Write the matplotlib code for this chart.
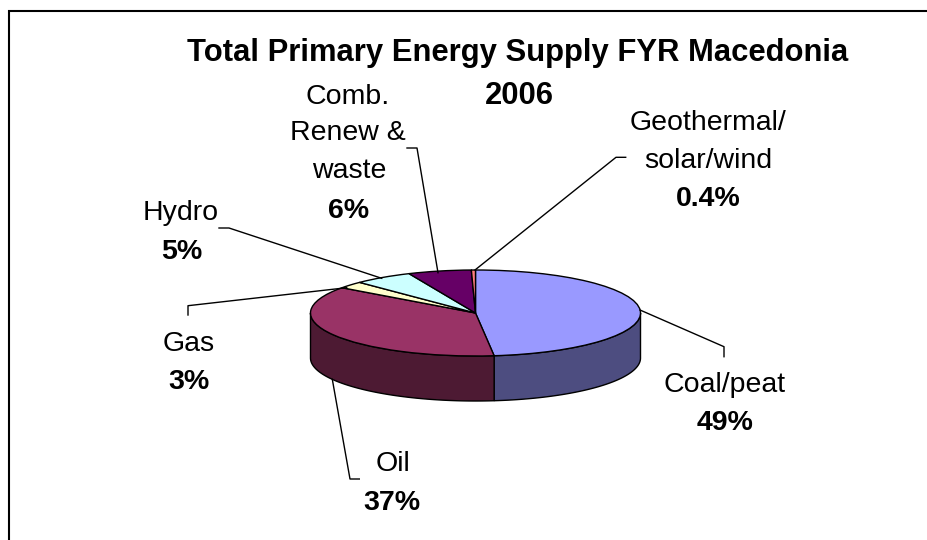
"""Total primary energy supply pie, drawn as a tilted 3D pie with leader lines."""
import numpy as np
import matplotlib
matplotlib.use("Agg")
import matplotlib.pyplot as plt

plt.rcParams["font.family"] = ["Liberation Sans", "DejaVu Sans"]

# slice shares (the printed labels are rounded)
categories = ["Coal/peat", "Oil", "Gas", "Hydro", "Comb. Renew & waste", "Geothermal/solar/wind"]
shares = [48.2, 36.8, 2.6, 5.8, 6.2, 0.4]
top_colors = ["#9999FF", "#993366", "#FFFFCC", "#CCFFFF", "#660066", "#FF8080"]
side_colors = ["#4D4D80", "#4D1A33", "#808066", "#668080", "#330033", "#804040"]

title_lines = ["Total Primary Energy Supply FYR Macedonia", "2006"]

# label lines: (text, bold, centre x, baseline y) in image pixels
label_lines = [
    ("Coal/peat", False, 725, 391.5),
    ("49%", True, 725.5, 430),
    ("Oil", False, 393, 471),
    ("37%", True, 392, 510),
    ("Gas", False, 188.5, 351),
    ("3%", True, 189, 389),
    ("Hydro", False, 181, 219.5),
    ("5%", True, 182, 259),
    ("Comb.", False, 347.5, 103.5),
    ("Renew &", False, 348, 140.5),
    ("waste", False, 349, 178.5),
    ("6%", True, 349, 217.5),
    ("Geothermal/", False, 708, 130.5),
    ("solar/wind", False, 708, 168.5),
    ("0.4%", True, 708, 205.5),
]

leaders = [
    [(640, 310), (724, 346.7), (724, 356.7)],
    [(332.3, 379.3), (350, 479), (359.3, 479)],
    [(346.7, 287.7), (188, 305.7), (188, 315)],
    [(381.7, 278.3), (229, 228), (219, 228)],
    [(438, 272.7), (417, 148), (407, 148)],
    [(475, 270), (616, 157.3), (625.7, 157.3)],
]

W, H = 928, 540
CX, CY = 475.5, 313
RX, RY = 165, 43
DEPTH = 45

fig = plt.figure(figsize=(W / 100, H / 100), dpi=100)

ax = fig.add_axes([0, 0, 1, 1])
ax.pie(shares, colors=top_colors, startangle=90, counterclock=False, radius=1,
       wedgeprops={"edgecolor": "black", "linewidth": 1.0, "zorder": 3})
ax.set_aspect("auto")
ax.set_xlim(-CX / RX, (W - CX) / RX)
ax.set_ylim(-(H - CY) / RY, CY / RY)
ax.axis("off")

# side wall: only the front half of the rim shows
depth = DEPTH / RY
stop = 90.0
for share, col in zip(shares, side_colors):
    start = stop - share * 3.6
    a0, a1 = start, stop
    stop = start
    # visible part sits in math angles -180..0
    lo, hi = max(a0, -180.0), min(a1, 0.0)
    if hi <= lo:
        continue
    t = np.radians(np.linspace(lo, hi, 120))
    x, y = np.cos(t), np.sin(t)
    ax.fill(np.r_[x, x[::-1]], np.r_[y, y[::-1] - depth], facecolor=col,
            edgecolor="black", linewidth=1.0, zorder=2)

# overlay in image pixels for frame, leaders and text
ov = fig.add_axes([0, 0, 1, 1], facecolor="none")
ov.set_xlim(0, W)
ov.set_ylim(H, 0)
ov.axis("off")

ov.plot([9.5, 9.5, W], [H, 10.5, 10.5], color="black", lw=1.5, solid_joinstyle="miter")

for pts in leaders:
    pts = np.array(pts)
    ov.plot(pts[:, 0], pts[:, 1], color="black", lw=1.0)

ov.text(517.5, 61.5, title_lines[0], ha="center", va="baseline", fontsize=22.3, fontweight="bold")
ov.text(519, 103.5, title_lines[1], ha="center", va="baseline", fontsize=22.3, fontweight="bold")

for txt, bold, x, y in label_lines:
    ov.text(x, y, txt, ha="center", va="baseline", fontsize=20.5,
            fontweight="bold" if bold else "normal")

fig.savefig("out.png", dpi=100)
